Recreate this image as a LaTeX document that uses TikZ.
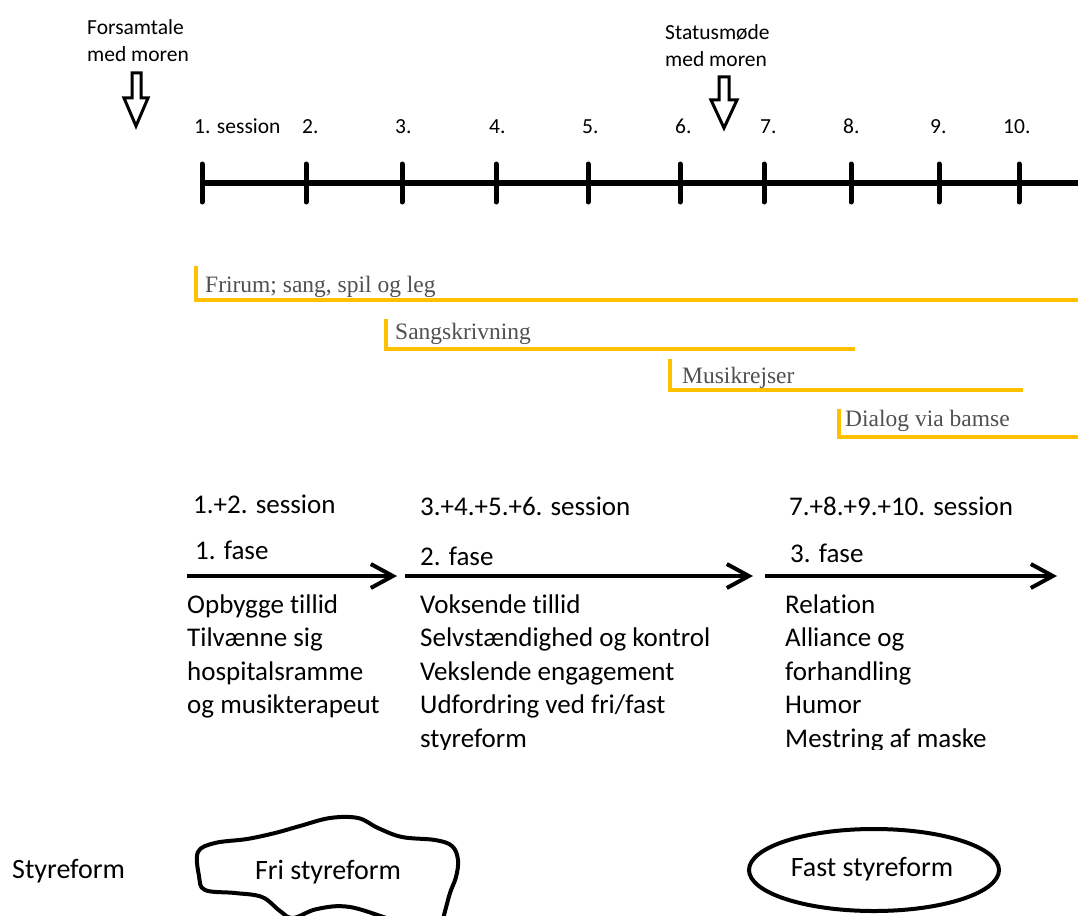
\documentclass[tikz,border=0pt]{standalone}
\usepackage{fontspec}
\newfontfamily\cali[RawFeature={-liga}]{Carlito}
\newfontfamily\serfont{Liberation Serif}
\usetikzlibrary{arrows.meta,shapes.geometric}
\definecolor{gold}{HTML}{FFC000}
\definecolor{graytxt}{HTML}{505050}
\begin{document}
\begin{tikzpicture}[x=1pt,y=-1pt,
  lbl/.style={font=\cali\fontsize{21.5}{26}\selectfont, anchor=base west, inner sep=0pt},
  body/.style={font=\cali\fontsize{27}{33}\selectfont, anchor=base west, inner sep=0pt},
  serl/.style={font=\serfont\fontsize{23.5}{27}\selectfont, text=graytxt, anchor=base west, inner sep=0pt},
  goldline/.style={draw=gold, line width=4pt},
  hollow/.style={draw=black, line width=3pt, line join=miter, fill=white},
  phasearrow/.style={line width=4pt, -{Straight Barb[length=22pt,width=24pt]}},
  tick/.style={line width=5pt, line cap=round}]
\useasboundingbox (0,0) rectangle (1078,915);

% top labels
\node[lbl] (fors1) at (87,35) {Forsamtale};
\node[lbl] (fors2) at (87,62) {med moren};
\node[lbl] (stat1) at (665,40) {Statusmøde};
\node[lbl] (stat2) at (665,67) {med moren};
\draw[hollow] (132,73) -- (141,73) -- (141,98) -- (148,98) -- (136,126) -- (124,98) -- (132,98) -- cycle;
\draw[hollow] (719,77) -- (729,77) -- (729,100) -- (737,100) -- (724,128) -- (711,100) -- (719,100) -- cycle;

% timeline
\coordinate (tl0) at (202,183);
\coordinate (tlend) at (1090,183);
\draw[line width=6pt] (tl0) -- (tlend);
\foreach \x [count=\i] in {202,306,402,496,588,680,764,851,939,1019}{
  \coordinate (tA\i) at (\x,164);
  \coordinate (tB\i) at (\x,202);
  \draw[tick] (tA\i) -- (tB\i);
}
\node[lbl] (s1) at (194,134) {1. session};
\node[lbl] (s2) at (302,134) {2.};
\node[lbl] (s3) at (395,134) {3.};
\node[lbl] (s4) at (489,134) {4.};
\node[lbl] (s5) at (582,134) {5.};
\node[lbl] (s6) at (675,134) {6.};
\node[lbl] (s7) at (760,134) {7.};
\node[lbl] (s8) at (843,134) {8.};
\node[lbl] (s9) at (930,134) {9.};
\node[lbl] (s10) at (1003,134) {10.};

% gold activity lines
\draw[goldline] (196,266) |- (1090,300);
\node[serl] (frirum) at (205,292) {Frirum; sang, spil og leg};
\draw[goldline] (386,319) |- (855,349);
\node[serl] (sang) at (395,339) {Sangskrivning};
\draw[goldline] (670,359) |- (1023,390);
\node[serl] (musik) at (682,383) {Musikrejser};
\draw[goldline] (839,409) |- (1090,437);
\node[serl] (dialog) at (845,426) {Dialog via bamse};

% phases
\node[body] (p1s) at (193,513) {1.+2. session};
\node[body] (p2s) at (420,515) {3.+4.+5.+6. session};
\node[body] (p3s) at (789,515) {7.+8.+9.+10. session};
\node[body] (f1) at (195,559) {1. fase};
\node[body] (f2) at (420,565) {2. fase};
\node[body] (f3) at (790,562) {3. fase};
\coordinate (a1s) at (187,576); \coordinate (a1e) at (397,576);
\coordinate (a2s) at (405,576); \coordinate (a2e) at (753,576);
\coordinate (a3s) at (765,576); \coordinate (a3e) at (1057,576);
\draw[phasearrow] (a1s) -- (a1e);
\draw[phasearrow] (a2s) -- (a2e);
\draw[phasearrow] (a3s) -- (a3e);

\begin{scope}
\clip (0,0) rectangle (1078,749);
\foreach \t [count=\i] in {Opbygge tillid,Tilvænne sig,hospitalsramme,og musikterapeut}
  \node[body] (c1l\i) at (187,{613+33.5*(\i-1)}) {\t};
\foreach \t [count=\i] in {Voksende tillid,Selvstændighed og kontrol,Vekslende engagement,Udfordring ved fri/fast,styreform}
  \node[body] (c2l\i) at (420,{613+33.5*(\i-1)}) {\t};
\foreach \t [count=\i] in {Relation,Alliance og,forhandling,Humor,Mestring af maske}
  \node[body] (c3l\i) at (785,{613+33.5*(\i-1)}) {\t};
\end{scope}

% styreform
\node[body, font=\cali\fontsize{28}{33}\selectfont] (styre) at (12,878) {Styreform};
\begin{scope}
\clip (0,0) rectangle (1078,915);
\draw[line width=4pt] plot[smooth cycle, tension=0.6] coordinates {
 (198,852) (215,843) (247,839) (275,833) (300,826) (330,818) (358,818) (378,828)
 (402,837) (435,840) (452,846) (458,860) (456,877) (450,893) (444,915) (440,928)
 (400,922) (350,907) (317,909) (293,918) (280,911) (262,897) (235,893) (205,890) (199,876)};
\end{scope}
\node[font=\cali\fontsize{28}{33}\selectfont, anchor=base, inner sep=0pt] (fri) at (328,879) {Fri styreform};
\node[ellipse, draw, line width=4pt, minimum width=250pt, minimum height=82pt, inner sep=0pt] (fastell) at (874,870) {};
\node[font=\cali\fontsize{28}{33}\selectfont, anchor=base, inner sep=0pt] (fast) at (872,876) {Fast styreform};
\end{tikzpicture}
\end{document}
